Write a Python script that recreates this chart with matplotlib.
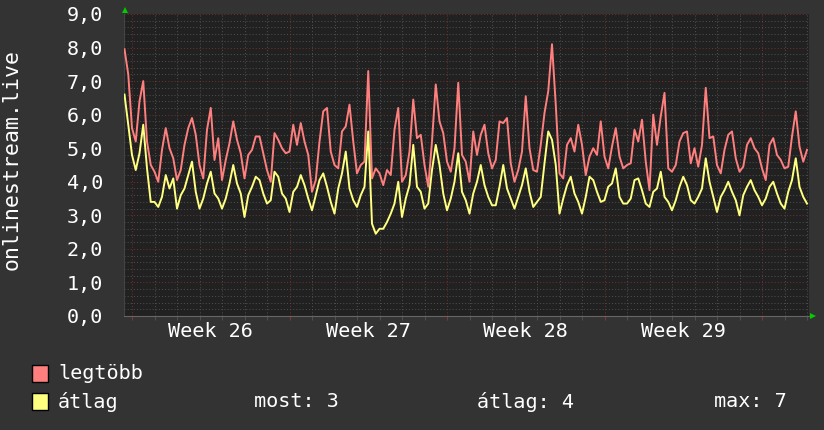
import numpy as np
import matplotlib
matplotlib.use('Agg')
import matplotlib.pyplot as plt
from matplotlib.patches import Rectangle, Polygon

W, H = 824, 430

# samples every 4 hours, first one on Sunday 16:00 before week 26
legtobb = [
    7.95, 7.2, 5.6, 5.2, 6.4, 7.0, 5.2, 4.5, 4.3, 4.0, 4.95, 5.6, 5.0, 4.7, 4.05, 4.35,
    5.1, 5.6, 5.9, 5.4, 4.5, 4.1, 5.55, 6.2, 4.65, 5.3, 4.05, 4.65, 5.15, 5.8, 5.25, 4.85,
    4.1, 4.8, 4.95, 5.35, 5.35, 4.85, 4.35, 4.0, 5.45, 5.25, 5.0, 4.85, 4.9, 5.7, 5.1, 5.75,
    5.2, 4.8, 3.7, 4.05, 5.2, 6.1, 6.2, 4.9, 4.5, 4.4, 5.5, 5.65, 6.3, 5.2, 4.25, 4.5,
    4.6, 7.3, 4.1, 4.4, 4.25, 3.9, 4.35, 4.2, 5.55, 6.2, 4.0, 4.2, 4.9, 6.45, 5.3, 5.4,
    4.5, 3.85, 5.2, 6.9, 5.8, 5.45, 4.6, 4.3, 5.0, 6.95, 4.8, 4.6, 4.0, 5.5, 4.8, 5.4,
    5.7, 4.85, 4.4, 4.65, 5.8, 5.75, 5.9, 4.55, 4.0, 4.35, 4.9, 6.55, 5.0, 4.35, 4.3, 5.1,
    6.05, 6.7, 8.1, 6.3, 4.25, 4.1, 5.1, 5.3, 4.9, 5.7, 5.1, 4.2, 4.75, 5.0, 4.8, 5.8,
    4.75, 4.4, 5.05, 5.6, 4.75, 4.4, 4.5, 4.55, 5.55, 5.2, 5.85, 4.6, 3.75, 6.0, 5.1, 5.95,
    6.65, 4.4, 4.3, 4.5, 5.2, 5.45, 5.5, 4.55, 5.0, 4.45, 5.1, 6.8, 5.3, 5.35, 4.5, 4.25,
    4.95, 5.4, 5.5, 4.7, 4.3, 4.45, 5.1, 5.3, 5.0, 4.85, 4.4, 4.05, 5.1, 5.3, 4.8, 4.65,
    4.4, 4.45, 5.35, 6.1, 5.05, 4.6, 4.95,
]
atlag = [
    6.6, 5.7, 4.8, 4.35, 4.85, 5.7, 4.4, 3.4, 3.4, 3.25, 3.55, 4.2, 3.8, 4.1, 3.2, 3.6,
    3.8, 4.2, 4.6, 3.7, 3.2, 3.5, 3.95, 4.3, 3.65, 3.5, 3.2, 3.5, 3.95, 4.5, 3.95, 3.65,
    2.95, 3.6, 3.85, 4.15, 4.05, 3.65, 3.35, 3.45, 4.3, 4.15, 3.65, 3.5, 3.1, 3.7, 3.85, 4.2,
    3.9, 3.5, 3.15, 3.6, 4.05, 4.25, 3.85, 3.4, 3.05, 3.8, 4.25, 4.9, 3.8, 3.45, 3.25, 3.6,
    3.85, 5.5, 2.75, 2.45, 2.6, 2.6, 2.8, 3.05, 3.35, 4.0, 2.95, 3.5, 3.9, 5.1, 3.85, 3.7,
    3.2, 3.35, 4.35, 5.1, 4.5, 3.65, 3.15, 3.5, 4.0, 4.85, 3.7, 3.45, 3.05, 3.65, 4.0, 4.5,
    3.9, 3.55, 3.3, 3.3, 3.85, 4.5, 3.8, 3.5, 3.2, 3.55, 3.9, 4.4, 3.7, 3.25, 3.4, 3.55,
    4.55, 5.5, 5.25, 4.5, 3.05, 3.5, 3.9, 4.15, 3.65, 3.4, 3.05, 3.55, 4.15, 4.05, 3.7, 3.4,
    3.45, 3.85, 3.95, 4.4, 3.55, 3.35, 3.35, 3.5, 4.05, 4.1, 3.75, 3.35, 3.25, 3.7, 3.8, 4.3,
    3.55, 3.4, 3.15, 3.45, 3.85, 4.15, 3.9, 3.45, 3.35, 3.55, 3.8, 4.7, 4.0, 3.55, 3.1, 3.55,
    3.75, 4.0, 3.7, 3.45, 3.0, 3.6, 3.85, 4.05, 3.75, 3.55, 3.3, 3.5, 3.85, 4.0, 3.65, 3.35,
    3.2, 3.7, 4.05, 4.7, 3.85, 3.55, 3.35,
]
week_labels = ['Week 26', 'Week 27', 'Week 28', 'Week 29']
week_starts = [0, 7, 14, 21, 28]
y_values = [0, 1, 2, 3, 4, 5, 6, 7, 8, 9]
legend_names = ['legtöbb', 'átlag']
stats = ['most: 3', 'átlag: 4', 'max: 7']

start_day = -1 / 3
step_day = 1 / 6

BG = '#333333'
PLOT_BG = '#212121'
RED = '#ff7f7f'
YEL = '#ffff80'
MONO = 'DejaVu Sans Mono'
FS = 14.5


def fx(x):
    return x / W


def fy(y):
    return 1 - y / H


fig = plt.figure(figsize=(W / 100, H / 100), dpi=100, facecolor=BG)
ax = fig.add_axes([fx(124), fy(316), (809 - 124) / W, (316 - 14) / H], facecolor=PLOT_BG)

t = start_day + step_day * np.arange(len(legtobb))
ax.plot(t, legtobb, color=RED, lw=1.4, zorder=3)
ax.plot(t, atlag, color=YEL, lw=1.4, zorder=4)

ax.set_xlim((124 - 132) / 22.5, (809 - 132) / 22.5)
ax.set_ylim(0, 9)

# grid like rrdtool
ax.set_yticks(y_values)
ax.set_yticks(np.arange(0, 9.01, 0.2), minor=True)
ax.set_yticklabels([f'{v:.1f}'.replace('.', ',') for v in y_values])
ax.set_xticks(week_starts)
ax.set_xticks(np.arange(0, 31), minor=True)
ax.set_xticklabels([])
ax.grid(which='minor', color='#4d4d4d', ls=(0, (1, 2)), lw=0.75)
ax.grid(which='major', color='#6e2e2e', ls=(0, (1, 2)), lw=0.75)
ax.set_axisbelow(True)

ax.tick_params(axis='y', which='both', length=0, pad=15, labelcolor='white',
               labelsize=FS, labelfontfamily=MONO)
ax.tick_params(axis='x', which='minor', length=3, color='#555555', direction='out')
ax.tick_params(axis='x', which='major', length=3, color='#883333', direction='out')

for s in ['top', 'right']:
    ax.spines[s].set_visible(False)
ax.spines['left'].set_color('#444444')
ax.spines['bottom'].set_color('#666666')

for i, lab in enumerate(week_labels):
    ax.text(week_starts[i] + 3.5, -0.05, lab, transform=ax.get_xaxis_transform(),
            ha='center', va='center', color='white', fontsize=FS, family=MONO)

fig.text(fx(12), fy(160), 'onlinestream.live', rotation=90, ha='center', va='center',
         color='white', fontsize=15.5, family=MONO)

# axis arrows
fig.patches.append(Polygon([[fx(122), fy(13)], [fx(128), fy(13)], [fx(125), fy(7)]],
                           closed=True, fc='#00cc00', ec='none', transform=fig.transFigure))
fig.patches.append(Polygon([[fx(810), fy(313)], [fx(810), fy(319)], [fx(816), fy(316)]],
                           closed=True, fc='#00cc00', ec='none', transform=fig.transFigure))

# legend
for name, col, yc in zip(legend_names, [RED, YEL], [373.5, 401.5]):
    fig.patches.append(Rectangle((fx(32), fy(yc + 8.5)), 16 / W, 17 / H, fc=col, ec='black',
                                 lw=1, transform=fig.transFigure))
    fig.text(fx(58), fy(yc), name, ha='left', va='center', color='white',
             fontsize=FS, family=MONO)
for s, xs in zip(stats, [254, 477, 714]):
    fig.text(fx(xs), fy(401.5), s, ha='left', va='center', color='white',
             fontsize=FS, family=MONO)

fig.savefig('out.png', dpi=100, facecolor=BG)
